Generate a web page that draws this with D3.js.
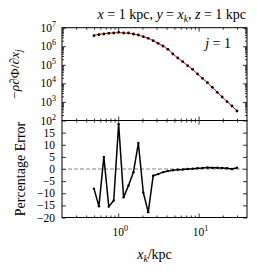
<!DOCTYPE html>
<html>
<head>
<meta charset="utf-8">
<script src="https://cdn.jsdelivr.net/npm/d3@7"></script>
<style>
  body { margin: 0; background: #fff; }
  text { font-family: "Liberation Serif", "DejaVu Serif", serif; fill: #000; }
</style>
</head>
<body>
<div id="chart"></div>
<script>
// x positions (kpc)
const xk = [0.500, 0.576, 0.663, 0.764, 0.880, 1.013, 1.167, 1.344, 1.547, 1.782,
  2.052, 2.363, 2.722, 3.134, 3.609, 4.156, 4.786, 5.512, 6.347, 7.310,
  8.420, 9.696, 11.17, 12.86, 14.81, 17.05, 19.64, 22.61, 26.05, 30.00];

// numerical force (black dots)
const numeric = [3.71e6, 4.20e6, 4.58e6, 4.99e6, 5.18e6, 5.65e6, 5.18e6, 5.18e6, 4.58e6, 4.05e6,
  3.28e6, 2.69e6, 2.00e6, 1.44e6, 1.03e6, 6.86e5, 3.83e5, 2.33e5, 1.47e5, 8.97e4,
  5.74e4, 3.20e4, 1.88e4, 1.09e4, 6.15e3, 3.30e3, 1.85e3, 1.03e3, 6.03e2, 3.25e2];

// analytic force (red line)
const analytic = [3.9e6, 4.4e6, 4.8e6, 5.1e6, 5.3e6, 5.4e6, 5.3e6, 5.0e6, 4.6e6, 4.0e6,
  3.3e6, 2.7e6, 2.0e6, 1.45e6, 1.03e6, 6.9e5, 3.85e5, 2.34e5, 1.47e5, 9.0e4,
  5.73e4, 3.2e4, 1.88e4, 1.09e4, 6.1e3, 3.3e3, 1.85e3, 1.03e3, 6.0e2, 3.25e2];

// percentage error (bottom panel)
const pctError = [-8.1, -15.4, 5.0, -15.5, -13.0, 18.5, -11.7, -6.8, -1.3, 10.7,
  -9.7, -17.8, -2.8, -2.1, -1.3, -0.8, -0.5, -0.3, -0.2, 0.0,
  0.1, 0.3, 0.4, 0.6, 0.5, 0.5, 0.4, 0.3, 0.0, 0.5];

const topTicks = [1e2, 1e3, 1e4, 1e5, 1e6, 1e7];
const errTicks = [-20, -15, -10, -5, 0, 5, 10, 15];
const xTicks = [1, 10];

const width = 257, height = 272;
const pLeft = 62, pRight = 247, pTop = 27.7, pMid = 120.5, pBottom = 217.5;

const svg = d3.select('#chart').append('svg')
  .attr('width', width)
  .attr('height', height);

const x = d3.scaleLog().domain([0.2, 40]).range([pLeft, pRight]);
const yTop = d3.scaleLog().domain([1e2, 1e7]).range([pMid, pTop]);
const yBot = d3.scaleLinear().domain([-20, 20]).range([pBottom, pMid]);

// minor tick values for log axes
function minors(lo, hi) {
  const out = [];
  for (let e = Math.floor(Math.log10(lo)); e < Math.ceil(Math.log10(hi)); e++) {
    for (let m = 2; m <= 9; m++) {
      const v = m * Math.pow(10, e);
      if (v > lo && v < hi) out.push(v);
    }
  }
  return out;
}
const xMinor = minors(0.2, 40);
const yMinor = minors(1e2, 1e7);

// draw inward ticks on one side
function ticks(axisFn, scale, values, size, transform) {
  svg.append('g')
    .attr('transform', transform)
    .call(axisFn(scale).tickValues(values).tickSize(size).tickFormat(''))
    .call(g => g.select('.domain').remove())
    .call(g => g.selectAll('line').attr('stroke', '#000').attr('stroke-width', 0.8));
}

// ---- top panel ----
ticks(d3.axisLeft, yTop, topTicks, -4, `translate(${pLeft},0)`);
ticks(d3.axisLeft, yTop, yMinor, -2, `translate(${pLeft},0)`);
ticks(d3.axisRight, yTop, topTicks, -4, `translate(${pRight},0)`);
ticks(d3.axisRight, yTop, yMinor, -2, `translate(${pRight},0)`);
ticks(d3.axisTop, x, xTicks, -4, `translate(0,${pTop})`);
ticks(d3.axisTop, x, xMinor, -2, `translate(0,${pTop})`);
ticks(d3.axisBottom, x, xTicks, -4, `translate(0,${pMid})`);
ticks(d3.axisBottom, x, xMinor, -2, `translate(0,${pMid})`);

// ---- bottom panel ----
ticks(d3.axisLeft, yBot, errTicks, -4, `translate(${pLeft},0)`);
ticks(d3.axisRight, yBot, errTicks, -4, `translate(${pRight},0)`);
ticks(d3.axisTop, x, xTicks, -4, `translate(0,${pMid})`);
ticks(d3.axisTop, x, xMinor, -2, `translate(0,${pMid})`);
ticks(d3.axisBottom, x, xTicks, -4, `translate(0,${pBottom})`);
ticks(d3.axisBottom, x, xMinor, -2, `translate(0,${pBottom})`);

// zero line
svg.append('line')
  .attr('x1', pLeft).attr('x2', pRight)
  .attr('y1', yBot(0)).attr('y2', yBot(0))
  .attr('stroke', '#888')
  .attr('stroke-width', 1)
  .attr('stroke-dasharray', '4,2');

// analytic red line
svg.append('path')
  .datum(analytic)
  .attr('fill', 'none')
  .attr('stroke', '#e00000')
  .attr('stroke-width', 1)
  .attr('d', d3.line().x((d, i) => x(xk[i])).y(d => yTop(d)));

// numeric dots
svg.append('g').selectAll('circle')
  .data(numeric)
  .join('circle')
  .attr('cx', (d, i) => x(xk[i]))
  .attr('cy', d => yTop(d))
  .attr('r', 1.4)
  .attr('fill', '#000');

// error line
svg.append('path')
  .datum(pctError)
  .attr('fill', 'none')
  .attr('stroke', '#000')
  .attr('stroke-width', 1.5)
  .attr('stroke-linejoin', 'round')
  .attr('d', d3.line().x((d, i) => x(xk[i])).y(d => yBot(d)));

svg.append('g').selectAll('circle')
  .data(pctError)
  .join('circle')
  .attr('cx', (d, i) => x(xk[i]))
  .attr('cy', d => yBot(d))
  .attr('r', 1.2)
  .attr('fill', '#000');

// frames
[[pTop, pMid], [pMid, pBottom]].forEach(([a, b]) => {
  svg.append('rect')
    .attr('x', pLeft).attr('y', a)
    .attr('width', pRight - pLeft).attr('height', b - a)
    .attr('fill', 'none')
    .attr('stroke', '#000')
    .attr('stroke-width', 1);
});

// top y tick labels 10^n
topTicks.forEach(v => {
  const t = svg.append('text')
    .attr('x', pLeft - 6)
    .attr('y', yTop(v) + 4)
    .attr('text-anchor', 'end')
    .attr('font-size', 11.5);
  t.append('tspan').text('10');
  t.append('tspan').attr('font-size', 8).attr('dy', -5).text(Math.round(Math.log10(v)));
});

// bottom y tick labels
errTicks.forEach(v => {
  svg.append('text')
    .attr('x', pLeft - 7)
    .attr('y', yBot(v) + 4)
    .attr('text-anchor', 'end')
    .attr('font-size', 11.5)
    .text(v < 0 ? '\u2212' + Math.abs(v) : v);
});

// x tick labels
xTicks.forEach(v => {
  const t = svg.append('text')
    .attr('x', x(v) + 2)
    .attr('y', pBottom + 18)
    .attr('text-anchor', 'middle')
    .attr('font-size', 11.5);
  t.append('tspan').text('10');
  t.append('tspan').attr('font-size', 8).attr('dy', -5).text(Math.round(Math.log10(v)));
});

// title
const title = svg.append('text')
  .attr('x', pRight - 1)
  .attr('y', 19)
  .attr('text-anchor', 'end')
  .attr('font-size', 14);
title.append('tspan').attr('font-style', 'italic').text('x');
title.append('tspan').text(' = 1 kpc, ');
title.append('tspan').attr('font-style', 'italic').text('y');
title.append('tspan').text(' = ');
title.append('tspan').attr('font-style', 'italic').text('x');
title.append('tspan').attr('font-style', 'italic').attr('font-size', 9.5).attr('dy', 3).text('k');
title.append('tspan').attr('dy', -3).text(', ');
title.append('tspan').attr('font-style', 'italic').text('z');
title.append('tspan').text(' = 1 kpc');

// j = 1
const jl = svg.append('text')
  .attr('x', 231)
  .attr('y', 48)
  .attr('text-anchor', 'end')
  .attr('font-size', 14);
jl.append('tspan').attr('font-style', 'italic').text('j');
jl.append('tspan').text(' = 1');

// y label top
const yl = svg.append('text')
  .attr('transform', `translate(19,${(pTop + pMid) / 2}) rotate(-90)`)
  .attr('text-anchor', 'middle')
  .attr('font-size', 13.5);
yl.append('tspan').text('\u2212');
yl.append('tspan').attr('font-style', 'italic').text('\u03c1\u2202');
yl.append('tspan').text('\u03a6/');
yl.append('tspan').attr('font-style', 'italic').text('\u2202x');
yl.append('tspan').attr('font-style', 'italic').attr('font-size', 9.5).attr('dy', 3).text('j');

// y label bottom
svg.append('text')
  .attr('transform', `translate(25,${(pMid + pBottom) / 2}) rotate(-90)`)
  .attr('text-anchor', 'middle')
  .attr('font-size', 14)
  .text('Percentage Error');

// x label
const xl = svg.append('text')
  .attr('x', (pLeft + pRight) / 2)
  .attr('y', 259)
  .attr('text-anchor', 'middle')
  .attr('font-size', 14);
xl.append('tspan').attr('font-style', 'italic').text('x');
xl.append('tspan').attr('font-style', 'italic').attr('font-size', 9.5).attr('dy', 3).text('k');
xl.append('tspan').attr('dy', -3).text('/kpc');
</script>
</body>
</html>
